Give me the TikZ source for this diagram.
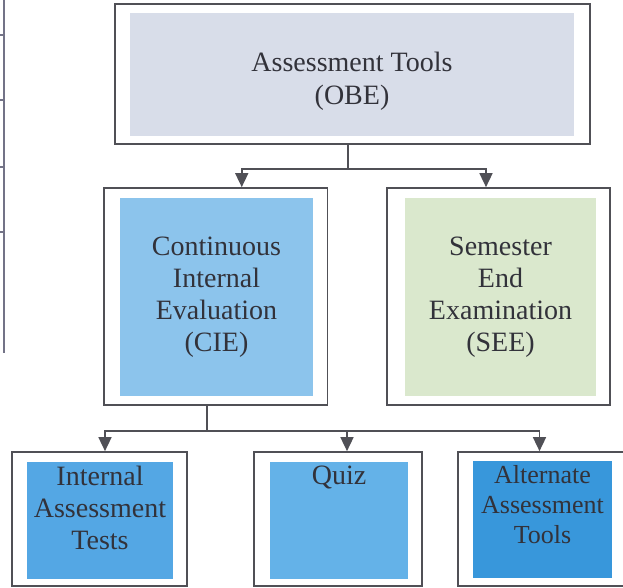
\documentclass[tikz,border=0pt]{standalone}
\usepackage{fontspec}
\setmainfont{Liberation Serif}
\usetikzlibrary{arrows.meta,positioning}

\definecolor{obecol}{RGB}{216,221,233}
\definecolor{ciecol}{RGB}{140,196,236}
\definecolor{seecol}{RGB}{218,232,205}
\definecolor{iatcol}{RGB}{84,167,228}
\definecolor{quizcol}{RGB}{100,178,232}
\definecolor{altcol}{RGB}{56,151,219}
\definecolor{framecol}{RGB}{80,80,86}
\definecolor{textcol}{RGB}{50,50,58}
\definecolor{tablecol}{RGB}{115,115,135}

\tikzset{
  outerbox/.style={draw=framecol, line width=1.7pt, inner sep=0pt},
  innerbox/.style={fill=#1, inner sep=0pt, text=textcol, align=center,
    font=\rmfamily\fontsize{28}{32}\selectfont},
  caption/.style={text=textcol, align=center, inner sep=0pt,
    font=\rmfamily\fontsize{28}{32}\selectfont},
  link/.style={draw=framecol, line width=1.6pt},
  feed/.style={link, -{Triangle[width=13pt,length=14pt]}},
  tableline/.style={draw=tablecol, line width=1.2pt}
}

\begin{document}
\begin{tikzpicture}[x=1pt,y=-1pt]
  \useasboundingbox (0,0) rectangle (623,587);
  \clip (0,0) rectangle (623,587);

  % edge of the neighbouring table
  \draw[tableline] (4,0) -- (4,353);
  \foreach \y in {35,100,167,232}
    \draw[tableline] (0,\y) -- (4,\y);

  \node[outerbox, minimum width=475, minimum height=140] (obe) at (352.5,74) {};
  \node[innerbox=obecol, minimum width=444, minimum height=123] (obein) at (352,74.5) {};
  \node[caption, font=\rmfamily\fontsize{28}{33}\selectfont, below=39pt of obein.north] (obetext)
    {Assessment Tools\\(OBE)};

  \node[outerbox, minimum width=223.5, minimum height=217] (cie) at (215.75,296.5) {};
  \node[innerbox=ciecol, minimum width=193, minimum height=198] (ciein) at (216.5,297)
    {Continuous\\Internal\\Evaluation\\(CIE)};

  \node[outerbox, minimum width=223, minimum height=217] (see) at (498.5,296.5) {};
  \node[innerbox=seecol, minimum width=191, minimum height=198] (seein) at (500.5,297)
    {Semester\\End\\Examination\\(SEE)};

  \node[outerbox, minimum width=175, minimum height=134] (iat) at (99.5,519) {};
  \node[innerbox=iatcol, minimum width=146, minimum height=117] (iatin) at (100,520.5) {};
  \node[caption, below=4pt of iatin.north] (iattext) {Internal\\Assessment\\Tests};

  \node[outerbox, minimum width=168, minimum height=134] (quiz) at (338,519) {};
  \node[innerbox=quizcol, minimum width=138, minimum height=117] (quizin) at (339,520.5) {};
  \node[caption, below=4pt of quizin.north] (quiztext) {Quiz};

  \node[outerbox, minimum width=169, minimum height=134] (alt) at (542.5,519) {};
  \node[innerbox=altcol, minimum width=139, minimum height=117] (altin) at (542.5,519.5) {};
  \node[caption, font=\rmfamily\fontsize{26}{30}\selectfont, below=4.5pt of altin.north] (alttext)
    {Alternate\\Assessment\\Tools};

  % connectors
  \draw[link] ([xshift=-4.5pt]obe.south) -- ++(0,24) coordinate (split);
  \draw[feed] (split) -| ([xshift=26pt]cie.north);
  \draw[feed] (split) -| ([xshift=-12.5pt]see.north);

  \draw[link] ([xshift=-8.75pt]cie.south) -- ++(0,25) coordinate (fork);
  \foreach \n/\s in {iat/5.5,quiz/9,alt/-3}
    \draw[feed] (fork) -| ([xshift=\s pt]\n.north);
\end{tikzpicture}
\end{document}
